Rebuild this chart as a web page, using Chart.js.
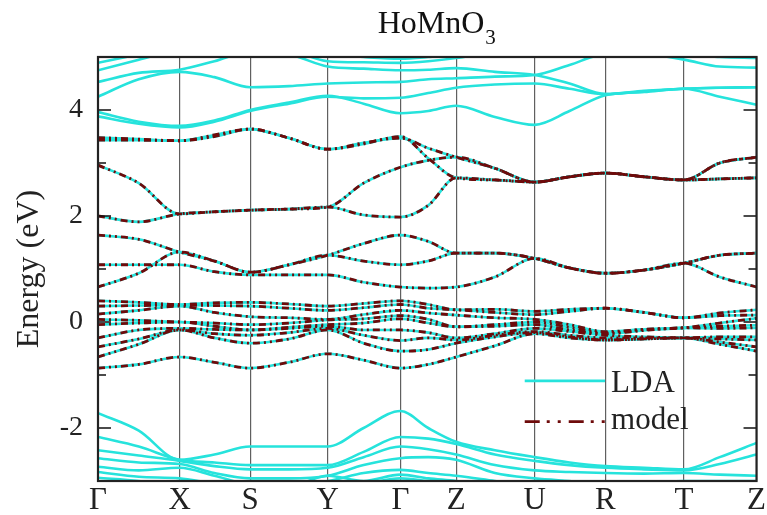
<!DOCTYPE html>
<html><head><meta charset="utf-8">
<script src="https://cdn.jsdelivr.net/npm/chart.js@4/dist/chart.umd.min.js"></script>
<style>html,body{margin:0;padding:0;background:#fff}#wrap{width:767px;height:515px}</style>
</head><body><div id="wrap"><canvas id="c" width="767" height="515"></canvas></div>
<script>
// k-path sample positions (path length units)
const kPath = [0, 0.41, 0.82, 1.17, 1.53, 1.92, 2.31, 2.67, 3.04, 3.32, 3.60, 3.99, 4.39, 4.74, 5.10, 5.49, 5.89, 6.25, 6.62];
const kTickPos = [0, 0.82, 1.53, 2.31, 3.04, 3.60, 4.39, 5.10, 5.89, 6.62];
const kTickLabels = ['Γ','X','S','Y','Γ','Z','U','R','T','Z'];
const yTickValues = [-2, 0, 2, 4];

// LDA-only bands above the model window (eV)
const up1 = [3.96,3.78,3.70,3.80,4.00,4.14,4.27,4.12,3.94,3.98,4.08,3.87,3.72,3.98,4.28,4.34,4.40,4.25,4.10];
const up2 = [3.88,3.74,3.67,3.78,3.98,4.12,4.25,4.22,4.23,4.32,4.42,4.48,4.50,4.40,4.30,4.35,4.40,4.42,4.43];
const up3 = [4.25,4.58,4.72,4.62,4.43,4.45,4.50,4.52,4.53,4.58,4.60,4.63,4.66,4.85,5.05,5.05,4.95,4.82,4.80];
const up4 = [4.53,4.70,4.76,4.92,5.10,5.05,4.82,4.78,4.75,4.76,4.79,4.72,4.66,4.50,4.30,4.36,4.40,4.42,4.43];
const up5 = [4.75,4.95,5.15,5.25,5.30,5.15,4.92,4.90,4.89,4.92,4.98,5.10,5.20,5.30,5.30,5.20,5.05,5.00,4.98];
const up6 = [4.89,5.05,5.20,5.30,5.30,5.20,5.05,5.00,4.97,5.00,5.05,5.20,5.30,5.30,5.30,5.20,5.10,5.10,5.10];

// bands reproduced by the model (eV)
const m1 = [3.43,3.43,3.42,3.53,3.64,3.47,3.26,3.38,3.47,3.28,3.11,2.90,2.64,2.74,2.81,2.74,2.68,3.00,3.11];
const m2 = [3.48,3.45,3.42,3.50,3.64,3.47,3.26,3.36,3.50,3.09,2.72,2.68,2.64,2.74,2.81,2.74,2.68,2.70,2.72];
const m3 = [2.96,2.62,2.04,2.08,2.11,2.13,2.17,2.62,2.92,3.05,3.11,2.90,2.64,2.74,2.81,2.74,2.68,3.00,3.11];
const m4 = [2.00,1.89,2.04,2.08,2.11,2.13,2.17,2.02,1.98,2.20,2.72,2.68,2.64,2.74,2.81,2.74,2.68,2.70,2.72];
const m5 = [1.64,1.56,1.32,1.15,0.94,1.08,1.26,1.48,1.64,1.52,1.30,1.30,1.20,1.02,0.92,0.98,1.11,1.26,1.30];
const m6 = [1.08,1.08,1.08,0.95,0.89,0.89,0.89,0.75,0.66,0.64,0.66,0.85,1.20,1.02,0.92,0.98,1.11,0.85,0.66];
const m7 = [0.66,0.92,1.32,1.15,0.94,1.08,1.26,1.15,1.08,1.15,1.30,1.30,1.20,1.02,0.92,0.98,1.11,1.26,1.30];
const l1 = [0.40,0.37,0.33,0.36,0.37,0.34,0.30,0.35,0.40,0.33,0.23,0.24,0.20,0.24,0.26,0.18,0.08,0.17,0.23];
const l2 = [0.30,0.31,0.32,0.31,0.30,0.26,0.22,0.27,0.33,0.26,0.23,0.18,0.14,0.20,0.26,0.18,0.08,0.12,0.13];
const l3 = [0.15,0.22,0.30,0.18,0.10,0.08,0.05,0.14,0.22,0.17,0.13,0.08,0.05,-0.05,-0.18,-0.14,-0.11,-0.02,0.07];
const l4 = [0.05,0.03,0.00,-0.02,-0.05,-0.02,0.04,0.06,0.12,0.05,-0.09,-0.05,0.00,-0.10,-0.20,-0.14,-0.11,-0.08,-0.06];
const l5 = [-0.05,-0.02,0.00,-0.08,-0.15,-0.10,-0.05,-0.02,0.06,-0.02,-0.09,-0.08,-0.05,-0.15,-0.22,-0.16,-0.11,-0.12,-0.11];
const l6 = [-0.30,-0.15,-0.12,-0.14,-0.15,-0.12,-0.08,-0.15,-0.15,-0.20,-0.30,-0.22,-0.12,-0.18,-0.25,-0.28,-0.30,-0.28,-0.28];
const l7 = [-0.47,-0.32,-0.15,-0.22,-0.25,-0.20,-0.12,-0.25,-0.35,-0.30,-0.34,-0.25,-0.18,-0.25,-0.30,-0.30,-0.30,-0.32,-0.34];
const l8 = [-0.66,-0.42,-0.15,-0.30,-0.40,-0.32,-0.15,-0.40,-0.55,-0.52,-0.40,-0.28,-0.20,-0.28,-0.34,-0.32,-0.30,-0.38,-0.47];
const l9 = [-0.87,-0.80,-0.66,-0.76,-0.87,-0.76,-0.60,-0.72,-0.87,-0.80,-0.66,-0.45,-0.22,-0.30,-0.34,-0.32,-0.30,-0.42,-0.55];

// LDA-only bands below the model window (eV)
const dn1 = [-1.72,-2.05,-2.60,-2.50,-2.35,-2.35,-2.35,-2.00,-1.68,-2.00,-2.26,-2.42,-2.55,-2.65,-2.72,-2.75,-2.78,-2.55,-2.28];
const dn2 = [-2.17,-2.35,-2.60,-2.65,-2.70,-2.70,-2.70,-2.45,-2.17,-2.20,-2.30,-2.50,-2.62,-2.70,-2.75,-2.78,-2.80,-2.68,-2.50];
const dn3 = [-2.42,-2.52,-2.62,-2.72,-2.78,-2.78,-2.75,-2.55,-2.35,-2.40,-2.50,-2.70,-2.80,-2.83,-2.85,-2.86,-2.85,-2.88,-2.90];
const dn4 = [-2.57,-2.65,-2.68,-2.85,-2.95,-2.95,-2.90,-2.70,-2.57,-2.55,-2.60,-2.85,-2.95,-3.00,-3.05,-3.05,-3.00,-3.00,-3.00];
const dn5 = [-2.73,-2.80,-2.75,-2.90,-3.05,-3.05,-3.00,-2.85,-2.79,-2.85,-2.90,-3.00,-3.10,-3.10,-3.10,-3.10,-3.10,-3.10,-3.10];
const dn6 = [-2.83,-2.92,-2.95,-3.05,-3.10,-3.10,-2.90,-3.00,-2.88,-2.95,-3.00,-3.10,-3.10,-3.10,-3.10,-3.10,-3.10,-3.10,-3.10];
const dn7 = [-2.94,-3.00,-3.10,-3.10,-3.10,-3.10,-3.10,-3.05,-2.95,-3.00,-3.05,-3.10,-3.10,-3.10,-3.10,-3.10,-3.10,-3.10,-3.10];

const ldaBands = [up1,up2,up3,up4,up5,up6,m1,m2,m3,m4,m5,m6,m7,l1,l2,l3,l4,l5,l6,l7,l8,l9,dn1,dn2,dn3,dn4,dn5,dn6,dn7];
const modelBands = [m1,m2,m3,m4,m5,m6,m7,l1,l2,l3,l4,l5,l6,l7,l8,l9];

const LDA_COLOR = '#26e3dc';
const MODEL_COLOR = '#6e0b0b';
const MODEL_DASH = [7,4,2,4,2,4];
const SERIF = '"Liberation Serif", "DejaVu Serif", serif';

const toPts = b => kPath.map((x,i)=>({x, y:b[i]}));
const datasets = [];
modelBands.forEach((b,i)=>datasets.push({label:'model'+i, data:toPts(b), borderColor:MODEL_COLOR, borderWidth:2.8, borderDash:MODEL_DASH, pointRadius:0, cubicInterpolationMode:'monotone', order:0}));
ldaBands.forEach((b,i)=>datasets.push({label:'LDA'+i, data:toPts(b), borderColor:LDA_COLOR, borderWidth:2.6, pointRadius:0, cubicInterpolationMode:'monotone', order:1}));

const framePlugin = {
  id:'frame',
  afterDatasetsDraw(chart){
    const {ctx, chartArea:a, scales:{y}} = chart;
    ctx.save();
    ctx.strokeStyle = '#111';
    ctx.lineWidth = 1.6;
    for (let v = -2; v <= 4; v++) {
      const py = y.getPixelForValue(v);
      const len = v % 2 === 0 ? 13 : 8;
      ctx.beginPath();
      ctx.moveTo(a.left, py); ctx.lineTo(a.left+len, py);
      ctx.moveTo(a.right, py); ctx.lineTo(a.right-len, py);
      ctx.stroke();
    }
    ctx.lineWidth = 2.2;
    ctx.strokeStyle = '#222';
    ctx.strokeRect(a.left, a.top, a.right-a.left, a.bottom-a.top);
    ctx.restore();
  },
  afterDraw(chart){
    const {ctx, chartArea:a} = chart;
    const w = a.right - a.left, h = a.bottom - a.top;
    ctx.save();
    // title
    ctx.fillStyle = '#111';
    ctx.textBaseline = 'alphabetic';
    ctx.font = '32px ' + SERIF;
    const t1 = 'HoMnO';
    const w1 = ctx.measureText(t1).width;
    ctx.font = '21px ' + SERIF;
    const w2 = ctx.measureText('3').width;
    const cx = (a.left + a.right)/2 + 9;
    const x0 = cx - (w1+w2)/2;
    ctx.font = '32px ' + SERIF;
    ctx.fillText(t1, x0, 33);
    ctx.font = '21px ' + SERIF;
    ctx.fillText('3', x0 + w1 + 1, 44);
    // legend
    const lx0 = a.left + w*0.648, lx1 = a.left + w*0.770;
    const ly1 = a.top + h*0.764, ly2 = a.top + h*0.860;
    ctx.lineWidth = 2.8;
    ctx.strokeStyle = LDA_COLOR;
    ctx.beginPath(); ctx.moveTo(lx0, ly1); ctx.lineTo(lx1, ly1); ctx.stroke();
    ctx.strokeStyle = MODEL_COLOR;
    ctx.setLineDash([15,7,3,8,3,8]);
    ctx.beginPath(); ctx.moveTo(lx0, ly2); ctx.lineTo(lx1, ly2); ctx.stroke();
    ctx.setLineDash([]);
    ctx.font = '31px ' + SERIF;
    ctx.fillStyle = '#222';
    ctx.textBaseline = 'middle';
    ctx.fillText('LDA', lx1 + 6, ly1 + 3);
    ctx.fillText('model', lx1 + 6, ly2 - 1);
    ctx.restore();
  }
};

new Chart(document.getElementById('c'), {
  type:'line',
  data:{datasets},
  options:{
    responsive:false,
    animation:false,
    devicePixelRatio:1,
    layout:{padding:{top:57, right:7, left:0, bottom:0}},
    plugins:{legend:{display:false}, tooltip:{enabled:false}, title:{display:false}},
    scales:{
      x:{
        type:'linear', min:0, max:6.62,
        afterBuildTicks: s => { s.ticks = kTickPos.map(v=>({value:v})); },
        afterFit: s => { s.height = 34; },
        ticks:{autoSkip:false, maxRotation:0, padding:1, color:'#222',
          font:{family:SERIF, size:31},
          callback:(v,i)=>kTickLabels[i]},
        grid:{color:'#606060', lineWidth:1.2, drawTicks:false},
        border:{display:false}
      },
      y:{
        type:'linear', min:-3, max:5,
        afterBuildTicks: s => { s.ticks = yTickValues.map(v=>({value:v})); },
        afterFit: s => { s.width = 98; },
        ticks:{padding:15, color:'#222', font:{family:SERIF, size:28}},
        grid:{display:false, drawTicks:false},
        border:{display:false},
        title:{display:true, text:'Energy (eV)', color:'#222', font:{family:SERIF, size:32}, padding:{top:10,bottom:0}}
      }
    }
  },
  plugins:[framePlugin]
});
</script></body></html>
